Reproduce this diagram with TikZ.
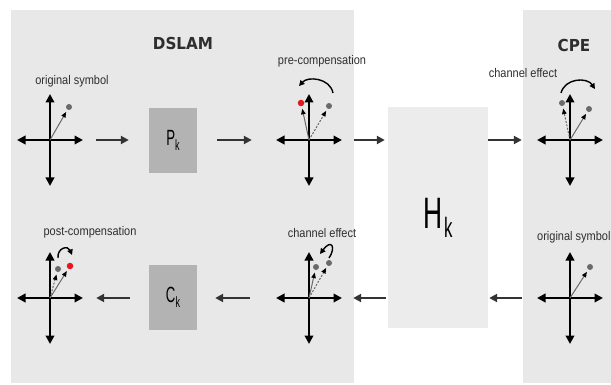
\documentclass[tikz,border=0pt]{standalone}
\usepackage{fontspec}
\setmainfont{Liberation Sans}[FakeStretch=0.88]
\newfontfamily\headf{DejaVu Sans}[FakeStretch=0.92]
\newfontfamily\boxf{Liberation Sans}[FakeStretch=0.6]
\usetikzlibrary{arrows.meta,calc}
\definecolor{panel}{HTML}{E8E8E8}
\definecolor{hbox}{HTML}{ECECEC}
\definecolor{pbox}{HTML}{B3B3B3}
\definecolor{txt}{HTML}{2E2E2E}
\definecolor{conncol}{HTML}{333333}
\definecolor{dotgray}{HTML}{6A6A6A}
\definecolor{dotred}{HTML}{E8141E}
\tikzset{
 axis/.style={line width=2.3pt, black, {Triangle[length=8.5pt,width=8.5pt]}-{Triangle[length=8.5pt,width=8.5pt]}},
 conn/.style={line width=2.6pt, conncol, -{Triangle[length=8pt,width=8pt]}},
 vec/.style={line width=1pt, dotgray, -{Triangle[length=5.5pt,width=4.5pt,fill=black,color=black]}, shorten >=2.5pt},
 vecd/.style={vec, dash pattern=on 2pt off 1.5pt},
 rot/.style={line width=1.4pt, black, -{Triangle[length=5.5pt,width=5.5pt]}},
 gdot/.style={circle, fill=dotgray, inner sep=0pt, minimum size=6pt},
 rdot/.style={circle, fill=dotred, inner sep=0pt, minimum size=6.5pt},
 lbl/.style={text=txt, font=\fontsize{12.5}{12.5}\selectfont, inner sep=0pt},
 head/.style={text=txt, font=\headf\bfseries\fontsize{16.5}{16.5}\selectfont, inner sep=0pt},
 const/.style={minimum width=66pt, minimum height=92pt, inner sep=0pt},
 smallbox/.style={fill=pbox, minimum width=48pt, minimum height=65pt, inner sep=0pt, text=black},
}
\newcommand\drawaxes[1]{%
 \draw[axis] ($(#1)+(-33,0)$) -- ($(#1)+(33,0)$);
 \draw[axis] ($(#1)+(0,-46)$) -- ($(#1)+(0,46)$);}
\begin{document}
\begin{tikzpicture}[x=1pt,y=-1pt]
\useasboundingbox (0,0) rectangle (611,385);
\begin{scope}
\clip (0,0) rectangle (611,385);
\fill[white] (0,0) rectangle (611,385);
% panels
\fill[panel] (11,10) rectangle (354,383);
\fill[panel] (523,10) rectangle (611,383);
\node[fill=hbox, minimum width=100pt, minimum height=221pt, inner sep=0pt] (H) at (438,217.5)
  {\boxf\fontsize{44}{44}\selectfont H\hspace{1.5pt}\raisebox{-9pt}{\fontsize{28}{28}\selectfont k}};
\node[smallbox] (P) at (173,140.5) {\boxf\fontsize{22}{22}\selectfont P\raisebox{-5pt}{\fontsize{15}{15}\selectfont k}};
\node[smallbox] (C) at (173,297.5) {\boxf\fontsize{22}{22}\selectfont C\raisebox{-5pt}{\fontsize{15}{15}\selectfont k}};
% headings
\node[head] (dslam) at (183,43) {DSLAM};
\node[head] (cpe) at (574,45) {CPE};
% constellation placeholders
\node[const] (c1) at (50,140) {};
\node[const] (c2) at (309,140) {};
\node[const] (c3) at (570,140) {};
\node[const] (c4) at (50,298) {};
\node[const] (c5) at (309,298) {};
\node[const] (c6) at (570,298) {};
% labels
\node[lbl] (l1) at (72,81) {original symbol};
\node[lbl] (l2) at (322,61) {pre-compensation};
\node[lbl] (l3) at (523,73) {channel effect};
\node[lbl] (l4) at (90,232) {post-compensation};
\node[lbl] (l5) at (322,233) {channel effect};
\node[lbl, anchor=west] (l6) at (537,237) {original symbol};
% axes
\drawaxes{c1.center}
\drawaxes{c2.center}
\drawaxes{c3.center}
\drawaxes{c4.center}
\drawaxes{c5.center}
\drawaxes{c6.center}
% constellation 1
\node[gdot] (d1) at ($(c1.center)+(19,-33)$) {};
\draw[vec] (c1.center) -- (d1);
% constellation 2
\node[rdot] (d2r) at ($(c2.center)+(-8,-37)$) {};
\node[gdot] (d2g) at ($(c2.center)+(20,-34)$) {};
\draw[vec] (c2.center) -- (d2r);
\draw[vecd] (c2.center) -- (d2g);
\draw[rot] ($(c2.center)+(24,-47)$) .. controls ($(c2.center)+(21,-62)$) and ($(c2.center)+(-1,-64)$) .. ($(c2.center)+(-10,-54)$);
% constellation 3
\node[gdot] (d3a) at ($(c3.center)+(19,-31)$) {};
\node[gdot] (d3b) at ($(c3.center)+(-8,-37)$) {};
\draw[vec] (c3.center) -- (d3a);
\draw[vecd] (c3.center) -- (d3b);
\draw[rot] ($(c3.center)+(-9,-47)$) .. controls ($(c3.center)+(-5,-62)$) and ($(c3.center)+(17,-63)$) .. ($(c3.center)+(25,-51)$);
% constellation 4
\node[gdot] (d4g) at ($(c4.center)+(8,-29)$) {};
\node[rdot] (d4r) at ($(c4.center)+(20,-32)$) {};
\draw[vecd] (c4.center) -- (d4g);
\draw[vec] (c4.center) -- (d4r);
\draw[rot] ($(c4.center)+(8,-40)$) .. controls ($(c4.center)+(7,-50)$) and ($(c4.center)+(18,-53)$) .. ($(c4.center)+(22,-43)$);
% constellation 5
\node[gdot] (d5a) at ($(c5.center)+(7,-31)$) {};
\node[gdot] (d5b) at ($(c5.center)+(20,-35)$) {};
\draw[vec] (c5.center) -- (d5a);
\draw[vecd] (c5.center) -- (d5b);
\draw[rot] ($(c5.center)+(20,-40)$) .. controls ($(c5.center)+(27,-50)$) and ($(c5.center)+(23,-60)$) .. ($(c5.center)+(11,-44)$);
% constellation 6
\node[gdot] (d6) at ($(c6.center)+(20,-31)$) {};
\draw[vec] (c6.center) -- (d6);
% connectors top row
\draw[conn] ($(c1.east)+(13,0)$) -- ($(c1.east -| P.west)+(-20,0)$);
\draw[conn] ($(c2.west -| P.east)+(20,0)$) -- ($(c2.west)+(-24,0)$);
\draw[conn] ($(c2.east)+(12,0)$) -- ($(c2.east -| H.west)+(-3,0)$);
\draw[conn] ($(c3.west -| H.east)$) -- ($(c3.west)+(-15,0)$);
% connectors bottom row
\draw[conn] ($(c6.west)+(-15,0)$) -- ($(c6.west -| H.east)+(1,0)$);
\draw[conn] ($(c5.east -| H.west)+(-2,0)$) -- ($(c5.east)+(11,0)$);
\draw[conn] ($(c5.west)+(-26,0)$) -- ($(c5.west -| C.east)+(18,0)$);
\draw[conn] ($(c4.east -| C.west)+(-19,0)$) -- ($(c4.east)+(13,0)$);
\end{scope}
\end{tikzpicture}
\end{document}
